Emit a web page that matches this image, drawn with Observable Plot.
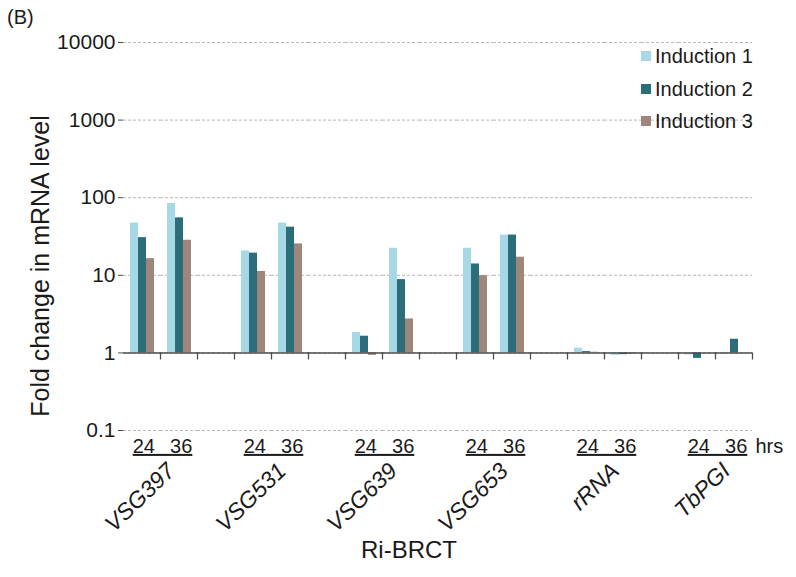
<!DOCTYPE html>
<html>
<head>
<meta charset="utf-8">
<script src="https://cdn.jsdelivr.net/npm/d3@7"></script>
<script src="https://cdn.jsdelivr.net/npm/@observablehq/plot@0.6"></script>
<style>
  html, body { margin: 0; padding: 0; background: #fff; }
  #wrap { position: relative; width: 796px; height: 577px; font-family: "Liberation Sans", Arial, sans-serif; color: #1a1a1a; }
  #wrap svg { position: absolute; left: 0; top: 0; }
  .lbl { position: absolute; white-space: nowrap; }
  .leg { position: absolute; left: 641px; font-size: 20px; line-height: 20px; }
  .leg span.sw { display: inline-block; width: 10px; height: 10px; margin-right: 4px; vertical-align: 2px; }
</style>
</head>
<body>
<div id="wrap"></div>
<script>
// ---- data ----
const genes = ["VSG397", "VSG531", "VSG639", "VSG653", "rRNA", "TbPGI"];
const hours = ["24", "36"];
const series = ["Induction 1", "Induction 2", "Induction 3"];
const colors = ["#a6d8e5", "#2b6d78", "#9e867a"];
// values per gene in order: gene24, gene36, ...
const induction1 = [47, 84, 20.6, 47, 1.83, 22.3, 22.3, 33, 1.15, 0.93, 0.94, 0.98];
const induction2 = [30.6, 55, 19.3, 41.7, 1.64, 8.8, 14.0, 33, 1.04, 0.95, 0.85, 1.5];
const induction3 = [16.4, 28.3, 11.2, 25.4, 0.93, 2.74, 9.9, 17.1, 1.02, 0.97, 1.0, 1.0];
const yTicks = [0.1, 1, 10, 100, 1000, 10000];
const xTitle = "Ri-BRCT";
const yTitle = "Fold change in mRNA level";
const panel = "(B)";
const unit = "hrs";

// ---- build tables ----
const valuesBySeries = [induction1, induction2, induction3];
const slots = [];
const rows = [];
genes.forEach((g, gi) => {
  hours.forEach((h, hi) => {
    const key = g + "|" + h;
    slots.push(key);
    series.forEach((s, si) => rows.push({slot: key, series: s, value: valuesBySeries[si][gi * 2 + hi]}));
  });
  if (gi < genes.length - 1) {
    const gap = "gap" + gi;
    slots.push(gap);
    rows.push({slot: gap, series: series[0], value: null});
  }
});
const geneRows = genes.map(g => ({gene: g, slot: g + "|24", label: hours.join("\u00a0\u00a0\u2009")}));

const tickShape = {draw(ctx, l) { ctx.moveTo(0, 0); ctx.lineTo(0, -l); }};

const chart = Plot.plot({
  width: 796,
  height: 577,
  marginLeft: 120,
  marginRight: 41,
  marginTop: 42,
  marginBottom: 147,
  style: {fontFamily: "Liberation Sans, Arial, sans-serif", fontSize: "20px", color: "#1a1a1a", background: "transparent"},
  fx: {domain: slots, padding: 0, axis: null, label: null},
  x: {domain: series, paddingInner: 0, paddingOuter: 0.72, axis: null},
  y: {type: "log", domain: [0.1, 10000], axis: null},
  color: {domain: series, range: colors},
  marks: [
    Plot.gridY(yTicks, {stroke: "#b8b8b8", strokeOpacity: 1, strokeDasharray: "3,2"}),
    Plot.barY(rows, {fx: "slot", x: "series", y1: 1, y2: "value", fill: "series"}),
    Plot.ruleY([1], {stroke: "#4d4d4d", strokeWidth: 1.5}),
    Plot.vector([1], {y: d => d, frameAnchor: "right", length: 6, rotate: 180, anchor: "start", shape: tickShape, stroke: "#4d4d4d", strokeWidth: 1.3}),
    Plot.axisY({ticks: yTicks, tickFormat: d => String(d), line: true, tickSize: 5, tickPadding: 3, stroke: "#4d4d4d", fill: "#1a1a1a", fontSize: 21, label: null}),
    Plot.text(geneRows, {fx: "slot", text: "label", frameAnchor: "bottom-right", textAnchor: "middle", lineAnchor: "middle", dx: 2, dy: 16, fontSize: 20, fill: "#1a1a1a"}),
    Plot.text(geneRows, {fx: "slot", text: "gene", frameAnchor: "bottom-right", textAnchor: "end", lineAnchor: "bottom", rotate: -44, dx: 16, dy: 42, fontSize: 23, fontStyle: "italic", fill: "#1a1a1a"}),
    Plot.text([unit], {fx: () => slots[slots.length - 1], text: d => d, frameAnchor: "bottom-right", textAnchor: "start", lineAnchor: "middle", dx: 3, dy: 16, fontSize: 20, fill: "#1a1a1a"})
  ]
});

const wrap = document.getElementById("wrap");
wrap.appendChild(chart);

// underline the "24 36" hour labels
chart.querySelectorAll("text").forEach(t => {
  if (t.textContent.startsWith(hours[0])) t.setAttribute("text-decoration", "underline");
});

function addLabel(text, css) {
  const d = document.createElement("div");
  d.className = "lbl";
  d.textContent = text;
  Object.assign(d.style, css);
  wrap.appendChild(d);
  return d;
}
addLabel(panel, {left: "7px", top: "6px", fontSize: "20px"});
addLabel(xTitle, {left: "409px", top: "536px", fontSize: "24px", transform: "translateX(-50%)"});
addLabel(yTitle, {left: "40px", top: "266px", fontSize: "25px", transform: "translate(-50%, -50%) rotate(-90deg)"});

series.forEach((s, i) => {
  const d = document.createElement("div");
  d.className = "leg";
  d.style.top = (46 + i * 32.5) + "px";
  const sw = document.createElement("span");
  sw.className = "sw";
  sw.style.background = colors[i];
  d.appendChild(sw);
  d.appendChild(document.createTextNode(s));
  wrap.appendChild(d);
});
</script>
</body>
</html>
